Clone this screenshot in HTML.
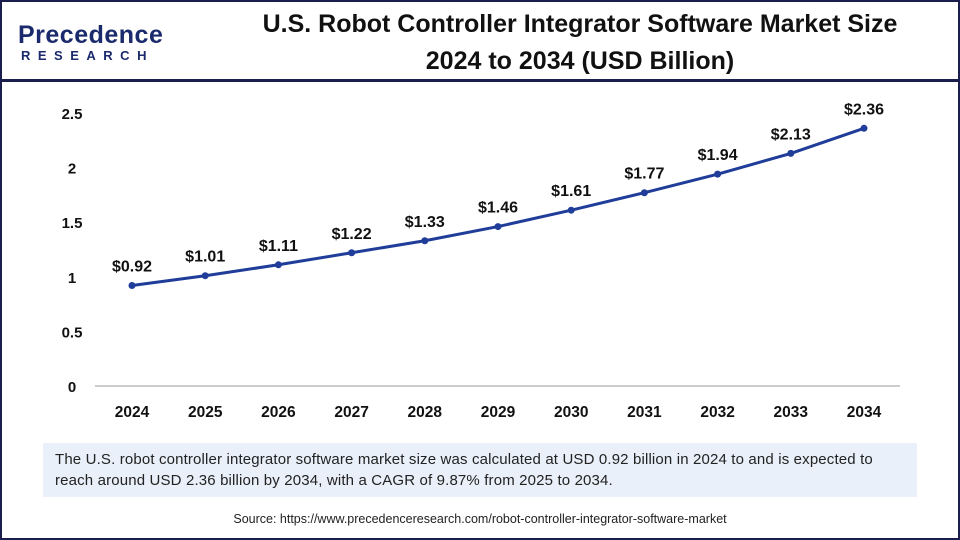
<!DOCTYPE html>
<html><head><meta charset="utf-8"><style>
body{margin:0;width:960px;height:540px;overflow:hidden;background:#fff;font-family:"Liberation Sans",sans-serif}
#frame{position:absolute;left:0;top:0;width:956px;height:536px;border:2px solid #1a1f4d}
</style></head><body>
<div id="frame"></div>
<div style="position:absolute;left:18px;top:22px">
<div style="font-size:25px;color:#1a2a6c;font-weight:bold;letter-spacing:0.5px;line-height:26px">Precedence</div>
<div style="font-size:13px;color:#1a2a6c;letter-spacing:7.5px;font-weight:bold;margin-left:3px">RESEARCH</div>
</div>
<div style="position:absolute;left:200px;top:6px;width:760px;text-align:center;font-size:25px;font-weight:bold;color:#111;line-height:37px">U.S. Robot Controller Integrator Software Market Size<br>2024 to 2034 (USD Billion)</div>
<div style="position:absolute;left:0;top:79px;width:960px;height:3px;background:#1a1f4d"></div>
<svg width="960" height="540" style="position:absolute;left:0;top:0" id="chart"></svg>
<div style="position:absolute;left:43px;top:443px;height:54px;background:#e9f0f9;padding:6px 0 0 12px;box-sizing:border-box;width:874px;font-size:15px;letter-spacing:0.15px;white-space:nowrap;color:#222;line-height:21px">The U.S. robot controller integrator software market size was calculated at USD 0.92 billion in 2024 to and is expected to<br>reach around USD 2.36 billion by 2034, with a CAGR of 9.87% from 2025 to 2034.</div>
<div style="position:absolute;left:0;top:512px;width:960px;text-align:center;font-size:12.5px;color:#222">Source: https://www.precedenceresearch.com/robot-controller-integrator-software-market</div>
<script>
const categories=["2024","2025","2026","2027","2028","2029","2030","2031","2032","2033","2034"];
const values=[0.92,1.01,1.11,1.22,1.33,1.46,1.61,1.77,1.94,2.13,2.36];
const yTicks=[0,0.5,1,1.5,2,2.5];
const yTickLabels=["0","0.5","1","1.5","2","2.5"];
const svg=document.getElementById('chart');const NS="http://www.w3.org/2000/svg";
const x=i=>132+i*73.2;const y=v=>386-v*109.2;
function mk(t,a){const e=document.createElementNS(NS,t);for(const k in a)e.setAttribute(k,a[k]);svg.appendChild(e);return e;}
const ax=mk('line',{x1:95,x2:900,y1:386,y2:386,stroke:'#bbb','stroke-width':1.5});


yTicks.forEach((v,i)=>{const t=mk('text',{x:72,y:y(v)+6,'text-anchor':'middle','font-size':15,'font-weight':'bold',fill:'#111'});t.textContent=yTickLabels[i];

});
categories.forEach((c,i)=>{const t=mk('text',{x:x(i),y:417,'text-anchor':'middle','font-size':15.5,'font-weight':'bold',fill:'#111'});t.textContent=c;

});
const ln=mk('polyline',{points:values.map((v,i)=>x(i)+','+y(v)).join(' '),fill:'none',stroke:'#1f3d99','stroke-width':3});


values.forEach((v,i)=>{const c=mk('circle',{cx:x(i),cy:y(v),r:3.5,fill:'#1f3d99'});


const t=mk('text',{x:x(i),y:y(v)-14,'text-anchor':'middle','font-size':16,'font-weight':'bold',fill:'#111'});t.textContent='$'+v.toFixed(2);

});
</script>
</body></html>
